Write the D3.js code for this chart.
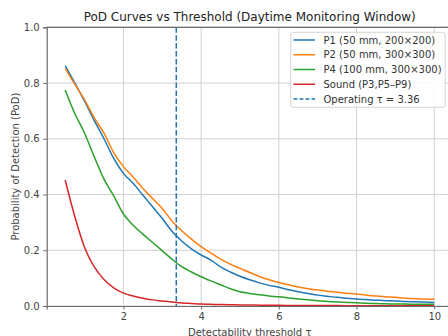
<!DOCTYPE html>
<html>
<head>
<meta charset="utf-8">
<script src="https://cdn.jsdelivr.net/npm/d3@7"></script>
<style>
  html, body { margin: 0; padding: 0; background: #fff; overflow: hidden; }
  svg { display: block; font-family: "DejaVu Sans", sans-serif; }
</style>
</head>
<body>
<svg id="chart"></svg>
<script>
// thresholds (tau) sampled every 0.25
const tau = [0.5, 0.75, 1.0, 1.25, 1.5, 1.75, 2.0, 2.25, 2.5, 2.75, 3.0, 3.25, 3.5, 3.75,
  4.0, 4.25, 4.5, 4.75, 5.0, 5.25, 5.5, 5.75, 6.0, 6.25, 6.5, 6.75, 7.0, 7.25, 7.5, 7.75,
  8.0, 8.25, 8.5, 8.75, 9.0, 9.25, 9.5, 9.75, 10.0];

const podP1 = [0.862, 0.800, 0.735, 0.665, 0.600, 0.530, 0.476, 0.440, 0.398, 0.356, 0.314, 0.268, 0.233, 0.205,
  0.183, 0.165, 0.140, 0.122, 0.107, 0.094, 0.083, 0.074, 0.067, 0.058, 0.051, 0.045, 0.039, 0.035, 0.031, 0.028,
  0.025, 0.023, 0.021, 0.019, 0.018, 0.016, 0.015, 0.014, 0.013];
const podP2 = [0.852, 0.795, 0.740, 0.675, 0.620, 0.550, 0.500, 0.463, 0.422, 0.386, 0.350, 0.305, 0.270, 0.240,
  0.213, 0.190, 0.168, 0.150, 0.135, 0.120, 0.106, 0.094, 0.084, 0.076, 0.068, 0.062, 0.057, 0.053, 0.049, 0.046,
  0.043, 0.039, 0.036, 0.033, 0.031, 0.028, 0.026, 0.025, 0.024];
const podP4 = [0.775, 0.690, 0.620, 0.535, 0.455, 0.395, 0.330, 0.290, 0.258, 0.228, 0.198, 0.168, 0.141, 0.122,
  0.105, 0.090, 0.076, 0.062, 0.051, 0.045, 0.040, 0.036, 0.033, 0.029, 0.025, 0.022, 0.019, 0.016, 0.014, 0.013,
  0.012, 0.010, 0.009, 0.008, 0.007, 0.007, 0.006, 0.006, 0.006];
const podSound = [0.452, 0.320, 0.210, 0.140, 0.095, 0.065, 0.046, 0.036, 0.028, 0.022, 0.018, 0.014, 0.011, 0.009,
  0.007, 0.006, 0.005, 0.0045, 0.004, 0.0035, 0.003, 0.0028, 0.0025, 0.0022, 0.002, 0.0018, 0.0016, 0.0015, 0.0014, 0.0013,
  0.0012, 0.0011, 0.001, 0.001, 0.0009, 0.0009, 0.0008, 0.0008, 0.0008];

const seriesNames = ["P1 (50 mm, 200×200)", "P2 (50 mm, 300×300)", "P4 (100 mm, 300×300)", "Sound (P3,P5–P9)"];
const seriesColors = ["#1f77b4", "#ff7f0e", "#2ca02c", "#d62728"];
const operatingTau = 3.36;
const xTicks = [2, 4, 6, 8, 10];
const yTicks = [0.0, 0.2, 0.4, 0.6, 0.8, 1.0];

const width = 448, height = 336;
const plotLeft = 46.7, plotRight = 452.7, plotTop = 27.3, plotBottom = 306;

const svg = d3.select("#chart").attr("width", width).attr("height", height);

const x = d3.scaleLinear().domain([0.025, 10.475]).range([plotLeft, plotRight]);
const y = d3.scaleLinear().domain([0, 1]).range([plotBottom, plotTop]);

// grid
const grid = svg.append("g");
grid.selectAll(".gx").data(xTicks).enter().append("line")
  .attr("x1", d => x(d)).attr("x2", d => x(d))
  .attr("y1", plotTop).attr("y2", plotBottom)
  .attr("stroke", "#d0d0d0").attr("stroke-width", 1);
grid.selectAll(".gy").data(yTicks).enter().append("line")
  .attr("x1", plotLeft).attr("x2", plotRight)
  .attr("y1", d => y(d)).attr("y2", d => y(d))
  .attr("stroke", "#d0d0d0").attr("stroke-width", 1);

// curves
const allSeries = [podP1, podP2, podP4, podSound];
const line = d3.line()
  .x((d, i) => x(tau[i]))
  .y(d => y(d))
  .curve(d3.curveMonotoneX);

svg.append("g").selectAll("path")
  .data(allSeries).enter().append("path")
  .attr("d", d => line(d))
  .attr("fill", "none")
  .attr("stroke", (d, i) => seriesColors[i])
  .attr("stroke-width", 1.5);

// operating threshold
svg.append("line")
  .attr("x1", x(operatingTau)).attr("x2", x(operatingTau))
  .attr("y1", plotTop).attr("y2", plotBottom)
  .attr("stroke", "#1f77b4").attr("stroke-width", 1.5)
  .attr("stroke-dasharray", "5.5,2.4");

// axes
const xAxis = svg.append("g").attr("transform", `translate(0,${plotBottom})`)
  .call(d3.axisBottom(x).tickValues(xTicks).tickFormat(d3.format("d")).tickSize(3.5).tickPadding(3.5));
const yAxis = svg.append("g").attr("transform", `translate(${plotLeft},0)`)
  .call(d3.axisLeft(y).tickValues(yTicks).tickFormat(d3.format(".1f")).tickSize(3.5).tickPadding(3.5));

[xAxis, yAxis].forEach(a => {
  a.select(".domain").attr("stroke", "#6a6a6a").attr("stroke-width", 1.2);
  a.selectAll(".tick line").attr("stroke", "#6a6a6a").attr("stroke-width", 1);
  a.selectAll(".tick text").attr("fill", "#444").style("font-size", "10px")
    .style("font-family", "DejaVu Sans, sans-serif");
});

// top spine
svg.append("line")
  .attr("x1", plotLeft).attr("x2", plotRight).attr("y1", plotTop).attr("y2", plotTop)
  .attr("stroke", "#6a6a6a").attr("stroke-width", 1.2);

// title and labels
svg.append("text")
  .attr("x", (plotLeft + plotRight) / 2).attr("y", 20.5)
  .attr("text-anchor", "middle")
  .style("font-size", "12px").attr("fill", "#222")
  .text("PoD Curves vs Threshold (Daytime Monitoring Window)");

svg.append("text")
  .attr("x", (plotLeft + plotRight) / 2).attr("y", 335.5)
  .attr("text-anchor", "middle")
  .style("font-size", "10px").attr("fill", "#444")
  .text("Detectability threshold τ");

svg.append("text")
  .attr("transform", `translate(18.5,${(plotTop + plotBottom) / 2}) rotate(-90)`)
  .attr("text-anchor", "middle")
  .style("font-size", "10px").attr("fill", "#444")
  .text("Probability of Detection (PoD)");

// legend
const legendItems = seriesNames.map((n, i) => ({ name: n, color: seriesColors[i], dash: null }))
  .concat([{ name: "Operating τ = 3.36", color: "#1f77b4", dash: "4,2" }]);

const lg = svg.append("g");
lg.append("rect")
  .attr("x", 290.7).attr("y", 32.3).attr("width", 154.5).attr("height", 75)
  .attr("rx", 2.5)
  .attr("fill", "#fff").attr("fill-opacity", 0.85)
  .attr("stroke", "#d6d6d6").attr("stroke-width", 1);

const rows = lg.selectAll(".row").data(legendItems).enter().append("g")
  .attr("transform", (d, i) => `translate(0,${40 + i * 14.75})`);
rows.append("line")
  .attr("x1", 293.5).attr("x2", 315).attr("y1", 0).attr("y2", 0)
  .attr("stroke", d => d.color).attr("stroke-width", 1.5)
  .attr("stroke-dasharray", d => d.dash);
rows.append("text")
  .attr("x", 323.5).attr("y", 0).attr("dy", "0.35em")
  .style("font-size", "10px").attr("fill", "#333")
  .text(d => d.name);
</script>
</body>
</html>
